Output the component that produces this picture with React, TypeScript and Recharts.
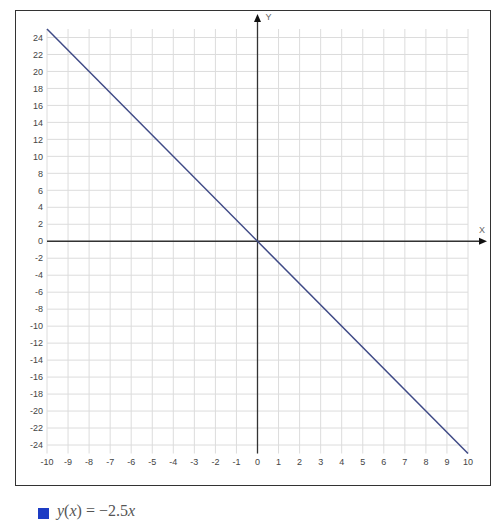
import React from 'react';
import { LineChart, Line, XAxis, YAxis, CartesianGrid, ReferenceLine } from 'recharts';

const xTicks = [-10, -9, -8, -7, -6, -5, -4, -3, -2, -1, 0, 1, 2, 3, 4, 5, 6, 7, 8, 9, 10];
const yTicks = [-24, -22, -20, -18, -16, -14, -12, -10, -8, -6, -4, -2, 0, 2, 4, 6, 8, 10, 12, 14, 16, 18, 20, 22, 24];
const xValues = [-10, 0, 10];
const yValues = [25, 0, -25];

const data = xValues.map((x, i) => ({ x, y: yValues[i] }));

const AXIS = '#333';
const LINE = '#3f4a86';
const tickStyle = { fontSize: 9, fill: '#444', fontFamily: 'Liberation Sans, Arial, sans-serif' };

function VerticalArrow(p: any) {
  const x = p.x1;
  const bottom = Math.max(p.y1, p.y2);
  const tip = Math.min(p.y1, p.y2) - 15;
  return (
    <g>
      <line x1={x} y1={bottom} x2={x} y2={tip + 5} stroke={AXIS} strokeWidth={1.3} />
      <path d={`M${x},${tip} L${x - 3.5},${tip + 8} L${x + 3.5},${tip + 8} Z`} fill="#111" />
      <text x={x + 8} y={tip + 6} fontSize={9} fill="#666" fontFamily="Liberation Sans, Arial, sans-serif">Y</text>
    </g>
  );
}

function HorizontalArrow(p: any) {
  const y = p.y1;
  const left = Math.min(p.x1, p.x2);
  const tip = Math.max(p.x1, p.x2) + 19;
  return (
    <g>
      <line x1={left} y1={y} x2={tip - 5} y2={y} stroke={AXIS} strokeWidth={1.3} />
      <path d={`M${tip},${y} L${tip - 8},${y - 3.5} L${tip - 8},${y + 3.5} Z`} fill="#111" />
      <text x={tip - 8} y={y - 8} fontSize={9} fill="#666" fontFamily="Liberation Sans, Arial, sans-serif">X</text>
    </g>
  );
}

export default function App() {
  return (
    <div style={{ position: 'absolute', left: 0, top: 0, width: 500, height: 528, background: '#fff' }}>
      <div style={{ position: 'absolute', left: 15, top: 10, width: 476, height: 476, border: '1.5px solid #333', boxSizing: 'border-box' }} />
      <div style={{ position: 'absolute', left: 0, top: 0 }}>
        <LineChart width={500} height={500} data={data} margin={{ top: 29, right: 32, bottom: 26.5, left: 0 }}>
          <CartesianGrid stroke="#dcdcdc" strokeWidth={1} horizontalValues={yTicks} verticalValues={xTicks} />
          <XAxis
            dataKey="x"
            type="number"
            domain={[-10, 10]}
            ticks={xTicks}
            interval={0}
            height={20}
            tickLine={false}
            axisLine={false}
            tickSize={0}
            tickMargin={5}
            tick={tickStyle}
          />
          <YAxis
            type="number"
            domain={[-25, 25]}
            ticks={yTicks}
            interval={0}
            width={47}
            tickLine={false}
            axisLine={false}
            tickSize={0}
            tickMargin={4}
            tick={tickStyle}
          />
          <ReferenceLine x={0} shape={VerticalArrow} />
          <ReferenceLine y={0} shape={HorizontalArrow} />
          <Line type="linear" dataKey="y" stroke={LINE} strokeWidth={1.5} dot={false} isAnimationActive={false} />
        </LineChart>
      </div>
      <div style={{ position: 'absolute', left: 38, top: 508, width: 11, height: 11, background: '#1d3cc4' }} />
      <div style={{ position: 'absolute', left: 57, top: 502, fontSize: 16, fontFamily: 'Liberation Serif, serif', color: '#555', whiteSpace: 'nowrap' }}>
        <i>y</i>(<i>x</i>) = −2.5<i>x</i>
      </div>
    </div>
  );
}
